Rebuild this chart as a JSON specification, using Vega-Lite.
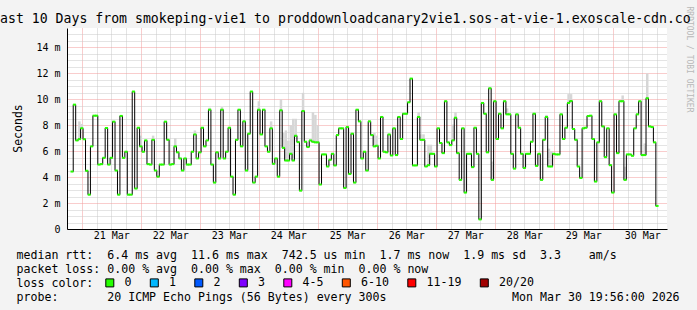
{
  "$schema": "https://vega.github.io/schema/vega-lite/v6.json",
  "width": 600,
  "height": 201,
  "autosize": {"type": "none"},
  "padding": {"left": 67, "top": 28, "right": 30, "bottom": 81},
  "background": "#f3f3f3",
  "config": {
    "view": {"fill": "white", "stroke": null},
    "font": "DejaVu Sans Mono"
  },
  "title": {
    "text": "ast 10 Days from smokeping-vie1 to proddownloadcanary2vie1.sos-at-vie-1.exoscale-cdn.co",
    "anchor": "start",
    "frame": "group",
    "dx": -67,
    "dy": 30,
    "offset": 0,
    "fontSize": 13.2,
    "fontWeight": "normal",
    "font": "DejaVu Sans Mono",
    "color": "black",
    "baseline": "alphabetic"
  },
  "datasets": {
    "median": [
      {"hour":20,"rtt":4.43},{"hour":21,"rtt":9.59},{"hour":22,"rtt":6.83},{"hour":23,"rtt":6.93},{"hour":24,"rtt":7.76},{"hour":25,"rtt":6.93},{"hour":26,"rtt":4.49},{"hour":27,"rtt":2.65},{"hour":28,"rtt":6.37},{"hour":29,"rtt":8.74},
      {"hour":30,"rtt":8.74},{"hour":31,"rtt":4.97},{"hour":32,"rtt":5.0},{"hour":33,"rtt":5.49},{"hour":34,"rtt":7.79},{"hour":35,"rtt":4.97},{"hour":36,"rtt":5.49},{"hour":37,"rtt":8.28},{"hour":38,"rtt":4.51},{"hour":39,"rtt":2.65},
      {"hour":40,"rtt":8.72},{"hour":41,"rtt":5.49},{"hour":42,"rtt":5.96},{"hour":43,"rtt":2.65},{"hour":44,"rtt":2.65},{"hour":45,"rtt":10.6},{"hour":46,"rtt":3.12},{"hour":47,"rtt":7.81},{"hour":48,"rtt":6.37},{"hour":49,"rtt":5.96},
      {"hour":50,"rtt":6.83},{"hour":51,"rtt":5.0},{"hour":52,"rtt":4.97},{"hour":53,"rtt":6.88},{"hour":54,"rtt":4.51},{"hour":55,"rtt":4.04},{"hour":56,"rtt":4.97},{"hour":57,"rtt":4.97},{"hour":58,"rtt":8.28},{"hour":59,"rtt":6.88},
      {"hour":60,"rtt":4.97},{"hour":61,"rtt":5.0},{"hour":62,"rtt":6.37},{"hour":63,"rtt":5.91},{"hour":64,"rtt":5.44},{"hour":65,"rtt":4.51},{"hour":66,"rtt":5.44},{"hour":67,"rtt":4.97},{"hour":68,"rtt":4.97},{"hour":69,"rtt":5.96},
      {"hour":70,"rtt":7.29},{"hour":71,"rtt":5.44},{"hour":72,"rtt":5.91},{"hour":73,"rtt":7.81},{"hour":74,"rtt":6.37},{"hour":75,"rtt":6.83},{"hour":76,"rtt":9.2},{"hour":77,"rtt":4.97},{"hour":78,"rtt":3.58},{"hour":79,"rtt":5.91},
      {"hour":80,"rtt":5.44},{"hour":81,"rtt":9.2},{"hour":82,"rtt":5.44},{"hour":83,"rtt":5.96},{"hour":84,"rtt":7.81},{"hour":85,"rtt":4.04},{"hour":86,"rtt":2.65},{"hour":87,"rtt":6.88},{"hour":88,"rtt":9.2},{"hour":89,"rtt":6.37},
      {"hour":90,"rtt":8.3},{"hour":91,"rtt":4.51},{"hour":92,"rtt":7.35},{"hour":93,"rtt":10.6},{"hour":94,"rtt":3.58},{"hour":95,"rtt":4.04},{"hour":96,"rtt":9.2},{"hour":97,"rtt":7.29},{"hour":98,"rtt":9.2},{"hour":99,"rtt":6.37},
      {"hour":100,"rtt":5.96},{"hour":101,"rtt":7.76},{"hour":102,"rtt":5.03},{"hour":103,"rtt":5.44},{"hour":104,"rtt":4.04},{"hour":105,"rtt":9.15},{"hour":106,"rtt":6.26},{"hour":107,"rtt":5.28},{"hour":108,"rtt":5.28},{"hour":109,"rtt":5.8},
      {"hour":110,"rtt":5.28},{"hour":111,"rtt":7.19},{"hour":112,"rtt":6.7},{"hour":113,"rtt":2.96},{"hour":114,"rtt":9.1},{"hour":115,"rtt":6.73},{"hour":116,"rtt":6.32},{"hour":117,"rtt":6.83},{"hour":118,"rtt":6.73},{"hour":119,"rtt":6.68},
      {"hour":120,"rtt":6.68},{"hour":121,"rtt":3.43},{"hour":122,"rtt":5.75},{"hour":123,"rtt":5.75},{"hour":124,"rtt":4.82},{"hour":125,"rtt":5.34},{"hour":126,"rtt":5.8},{"hour":127,"rtt":4.9},{"hour":128,"rtt":7.24},{"hour":129,"rtt":7.76},
      {"hour":130,"rtt":7.76},{"hour":131,"rtt":3.17},{"hour":132,"rtt":7.86},{"hour":133,"rtt":4.25},{"hour":134,"rtt":7.35},{"hour":135,"rtt":3.58},{"hour":136,"rtt":9.2},{"hour":137,"rtt":8.3},{"hour":138,"rtt":5.44},{"hour":139,"rtt":5.96},
      {"hour":140,"rtt":4.51},{"hour":141,"rtt":8.3},{"hour":142,"rtt":7.24},{"hour":143,"rtt":6.37},{"hour":144,"rtt":6.42},{"hour":145,"rtt":5.44},{"hour":146,"rtt":8.64},{"hour":147,"rtt":5.96},{"hour":148,"rtt":5.91},{"hour":149,"rtt":7.29},
      {"hour":150,"rtt":5.67},{"hour":151,"rtt":7.76},{"hour":152,"rtt":5.7},{"hour":153,"rtt":8.64},{"hour":154,"rtt":6.94},{"hour":155,"rtt":8.89},{"hour":156,"rtt":8.89},{"hour":157,"rtt":9.77},{"hour":158,"rtt":11.6},{"hour":159,"rtt":4.9},
      {"hour":160,"rtt":4.9},{"hour":161,"rtt":8.64},{"hour":162,"rtt":6.88},{"hour":163,"rtt":6.88},{"hour":164,"rtt":4.82},{"hour":165,"rtt":4.92},{"hour":166,"rtt":5.8},{"hour":167,"rtt":5.8},{"hour":168,"rtt":4.82},{"hour":169,"rtt":7.76},
      {"hour":170,"rtt":6.63},{"hour":171,"rtt":5.85},{"hour":172,"rtt":9.85},{"hour":173,"rtt":6.68},{"hour":174,"rtt":6.47},{"hour":175,"rtt":6.83},{"hour":176,"rtt":8.58},{"hour":177,"rtt":5.85},{"hour":178,"rtt":3.79},{"hour":179,"rtt":7.76},
      {"hour":180,"rtt":2.81},{"hour":181,"rtt":5.8},{"hour":182,"rtt":5.8},{"hour":183,"rtt":4.77},{"hour":184,"rtt":7.81},{"hour":185,"rtt":5.8},{"hour":186,"rtt":0.74},{"hour":187,"rtt":9.72},{"hour":188,"rtt":8.89},{"hour":189,"rtt":5.91},
      {"hour":190,"rtt":10.85},{"hour":191,"rtt":3.79},{"hour":192,"rtt":9.85},{"hour":193,"rtt":6.94},{"hour":194,"rtt":8.89},{"hour":195,"rtt":7.76},{"hour":196,"rtt":9.85},{"hour":197,"rtt":8.84},{"hour":198,"rtt":8.84},{"hour":199,"rtt":5.8},
      {"hour":200,"rtt":4.66},{"hour":201,"rtt":8.84},{"hour":202,"rtt":7.81},{"hour":203,"rtt":5.8},{"hour":204,"rtt":4.71},{"hour":205,"rtt":5.8},{"hour":206,"rtt":5.8},{"hour":207,"rtt":6.73},{"hour":208,"rtt":8.89},{"hour":209,"rtt":4.87},
      {"hour":210,"rtt":5.8},{"hour":211,"rtt":3.79},{"hour":212,"rtt":6.88},{"hour":213,"rtt":8.64},{"hour":214,"rtt":4.82},{"hour":215,"rtt":4.82},{"hour":216,"rtt":5.8},{"hour":217,"rtt":5.75},{"hour":218,"rtt":5.75},{"hour":219,"rtt":8.84},
      {"hour":220,"rtt":6.94},{"hour":221,"rtt":7.81},{"hour":222,"rtt":9.72},{"hour":223,"rtt":9.87},{"hour":224,"rtt":7.71},{"hour":225,"rtt":6.88},{"hour":226,"rtt":4.82},{"hour":227,"rtt":3.94},{"hour":228,"rtt":7.76},{"hour":229,"rtt":7.81},
      {"hour":230,"rtt":8.71},{"hour":231,"rtt":8.74},{"hour":232,"rtt":6.94},{"hour":233,"rtt":3.66},{"hour":234,"rtt":6.68},{"hour":235,"rtt":9.85},{"hour":236,"rtt":7.91},{"hour":237,"rtt":5.54},{"hour":238,"rtt":7.76},{"hour":239,"rtt":4.92},
      {"hour":240,"rtt":2.81},{"hour":241,"rtt":8.84},{"hour":242,"rtt":5.85},{"hour":243,"rtt":9.85},{"hour":244,"rtt":9.85},{"hour":245,"rtt":3.79},{"hour":246,"rtt":5.75},{"hour":247,"rtt":5.75},{"hour":248,"rtt":5.65},{"hour":249,"rtt":7.76},
      {"hour":250,"rtt":8.84},{"hour":251,"rtt":9.85},{"hour":252,"rtt":5.7},{"hour":253,"rtt":5.7},{"hour":254,"rtt":10.08},{"hour":255,"rtt":7.91},{"hour":256,"rtt":7.86},{"hour":257,"rtt":6.68},{"hour":258,"rtt":1.78}
    ],
    "smoke": [
      {"hour":23,"lo":6.93,"hi":8.3},{"hour":24,"lo":7.76,"hi":8.1},{"hour":48,"lo":6.37,"hi":7.2},{"hour":53,"lo":6.88,"hi":7.2},{"hour":62,"lo":6.37,"hi":7.0},
      {"hour":70,"lo":7.29,"hi":7.6},{"hour":76,"lo":9.2,"hi":9.35},{"hour":81,"lo":9.2,"hi":9.4},{"hour":96,"lo":9.2,"hi":9.85},{"hour":101,"lo":7.76,"hi":8.3},
      {"hour":105,"lo":9.15,"hi":10.0},{"hour":106,"lo":6.26,"hi":7.4},{"hour":107,"lo":5.28,"hi":7.6},{"hour":108,"lo":5.28,"hi":6.8},{"hour":109,"lo":5.8,"hi":8.0},
      {"hour":110,"lo":5.28,"hi":8.5},{"hour":111,"lo":7.19,"hi":8.5},{"hour":114,"lo":9.1,"hi":10.5},{"hour":118,"lo":6.73,"hi":9.0},{"hour":119,"lo":6.68,"hi":8.8},
      {"hour":120,"lo":6.68,"hi":8.0},{"hour":143,"lo":6.37,"hi":7.4},{"hour":144,"lo":6.42,"hi":7.2},{"hour":161,"lo":8.64,"hi":9.0},{"hour":162,"lo":6.88,"hi":7.3},
      {"hour":163,"lo":6.88,"hi":7.3},{"hour":165,"lo":4.92,"hi":6.5},{"hour":166,"lo":5.8,"hi":6.5},{"hour":175,"lo":6.83,"hi":8.05},{"hour":176,"lo":8.58,"hi":9.0},
      {"hour":191,"lo":3.79,"hi":5.2},{"hour":197,"lo":8.84,"hi":9.3},{"hour":213,"lo":8.64,"hi":8.8},{"hour":214,"lo":4.82,"hi":6.2},{"hour":215,"lo":4.82,"hi":6.0},
      {"hour":222,"lo":9.72,"hi":10.4},{"hour":223,"lo":9.87,"hi":10.4},{"hour":244,"lo":9.85,"hi":10.3},{"hour":245,"lo":3.79,"hi":4.8},{"hour":253,"lo":5.7,"hi":6.6},
      {"hour":254,"lo":10.08,"hi":12.0}
    ]
  },
  "resolve": {"axis": {"x": "independent", "y": "independent"}},
  "layer": [
    {
      "data": {"name": "smoke"},
      "mark": {"type": "bar", "color": "#d6d6d6", "size": 2.5, "clip": true},
      "encoding": {
        "x": {
          "field": "hour",
          "type": "quantitative",
          "scale": {"domain": [20, 260], "nice": false, "zero": false},
          "axis": {
            "orient": "bottom",
            "values": [24,30,36,42,48,54,60,66,72,78,84,90,96,102,108,114,120,126,132,138,144,150,156,162,168,174,180,186,192,198,204,210,216,222,228,234,240,246,252,258],
            "grid": true,
            "gridColor": {"condition": {"test": "datum.value % 24 === 0", "value": "#f29b9b"}, "value": "#c8c8c8"},
            "gridDash": [1, 1],
            "gridWidth": 1,
            "ticks": false,
            "tickSize": 0,
            "labelExpr": "datum.value % 24 === 12 ? (20 + floor(datum.value / 24)) + ' Mar' : ''",
            "labelFont": "DejaVu Sans Mono",
            "labelFontSize": 10,
            "labelColor": "black",
            "labelPadding": 1,
            "labelOverlap": false,
            "labelFlush": false,
            "domainColor": "black",
            "domainWidth": 1,
            "title": [
              "median rtt:\u00a0\u00a06.4 ms avg\u00a0\u00a011.6 ms max\u00a0\u00a0742.5 us min\u00a0\u00a01.7 ms now\u00a0\u00a01.9 ms sd\u00a0\u00a03.3\u00a0\u00a0\u00a0\u00a0am/s",
              "packet loss: 0.00 % avg\u00a0\u00a00.00 % max\u00a0\u00a00.00 % min\u00a0\u00a00.00 % now"
            ],
            "titleX": -51,
            "titleY": 29,
            "titleAlign": "left",
            "titleAnchor": "start",
            "titleBaseline": "alphabetic",
            "titleLineHeight": 14,
            "titleFont": "DejaVu Sans Mono",
            "titleFontSize": 11.6,
            "titleFontWeight": "normal",
            "titleColor": "black"
          }
        },
        "y": {
          "field": "lo",
          "type": "quantitative",
          "scale": {"domain": [0, 15.5], "nice": false, "zero": true},
          "axis": {
            "orient": "left",
            "values": [0,0.5,1,1.5,2,2.5,3,3.5,4,4.5,5,5.5,6,6.5,7,7.5,8,8.5,9,9.5,10,10.5,11,11.5,12,12.5,13,13.5,14,14.5,15],
            "grid": true,
            "gridColor": {"condition": {"test": "datum.value % 2 === 0", "value": "#f29b9b"}, "value": "#c8c8c8"},
            "gridDash": [1, 1],
            "gridWidth": 1,
            "ticks": false,
            "tickSize": 0,
            "labelExpr": "datum.value % 2 === 0 ? (datum.value === 0 ? '0' : datum.value + ' m') : ''",
            "labelFont": "DejaVu Sans Mono",
            "labelFontSize": 10,
            "labelColor": "black",
            "labelPadding": 7,
            "labelOverlap": false,
            "labelFlush": false,
            "domainColor": "black",
            "domainWidth": 1,
            "title": "Seconds",
            "titleX": -49,
            "titleY": 100,
            "titleAngle": -90,
            "titleAlign": "center",
            "titleBaseline": "middle",
            "titleFont": "DejaVu Sans Mono",
            "titleFontSize": 11.5,
            "titleFontWeight": "normal",
            "titleColor": "black"
          }
        },
        "y2": {"field": "hi"}
      }
    },
    {
      "data": {"name": "median"},
      "mark": {"type": "line", "interpolate": "step", "color": "black", "strokeWidth": 1, "clip": true},
      "encoding": {
        "x": {"field": "hour", "type": "quantitative", "axis": null},
        "y": {
          "field": "rtt",
          "type": "quantitative",
          "axis": {
            "orient": "right",
            "domain": false,
            "ticks": false,
            "labels": false,
            "grid": false,
            "title": "RRDTOOL / TOBI OETIKER",
            "titleAngle": 90,
            "titleAlign": "left",
            "titleBaseline": "middle",
            "titleX": 21,
            "titleY": -22,
            "titleFont": "DejaVu Sans Mono",
            "titleFontSize": 8,
            "titleFontWeight": "normal",
            "titleColor": "#b8b8b8"
          }
        }
      }
    },
    {
      "data": {"name": "median"},
      "mark": {"type": "tick", "orient": "horizontal", "size": 3, "thickness": 2, "opacity": 1, "clip": true},
      "encoding": {
        "x": {
          "field": "hour",
          "type": "quantitative",
          "axis": {
            "orient": "top",
            "domain": false,
            "ticks": false,
            "labels": false,
            "grid": false,
            "title": "probe:\u00a0\u00a0\u00a0\u00a0\u00a0\u00a0\u00a020 ICMP Echo Pings (56 Bytes) every 300s\u00a0\u00a0\u00a0\u00a0\u00a0\u00a0\u00a0\u00a0\u00a0\u00a0\u00a0\u00a0\u00a0\u00a0\u00a0\u00a0\u00a0\u00a0Mon Mar 30 19:56:00 2026",
            "titleX": -51,
            "titleY": 272,
            "titleAlign": "left",
            "titleAnchor": "start",
            "titleBaseline": "alphabetic",
            "titleFont": "DejaVu Sans Mono",
            "titleFontSize": 11.6,
            "titleFontWeight": "normal",
            "titleColor": "black"
          }
        },
        "y": {
          "field": "rtt",
          "type": "quantitative",
          "axis": {
            "orient": "left",
            "domain": false,
            "ticks": false,
            "labels": false,
            "grid": false,
            "title": "loss color:",
            "titleAngle": 0,
            "titleX": -51,
            "titleY": 258,
            "titleAlign": "left",
            "titleBaseline": "alphabetic",
            "titleFont": "DejaVu Sans Mono",
            "titleFontSize": 11.6,
            "titleFontWeight": "normal",
            "titleColor": "black"
          }
        },
        "color": {
          "datum": "0",
          "type": "nominal",
          "scale": {
            "domain": ["0", "1", "2", "3", "4-5", "6-10", "11-19", "20/20"],
            "range": ["#26ff00", "#00b8ff", "#0059ff", "#7e00ff", "#ff00ff", "#ff5500", "#ff0000", "#a10000"]
          },
          "legend": {
            "orient": "none",
            "legendX": 37,
            "legendY": 249,
            "direction": "horizontal",
            "title": null,
            "padding": 0,
            "symbolType": "square",
            "symbolSize": 64,
            "symbolStrokeColor": "black",
            "symbolStrokeWidth": 1,
            "symbolOpacity": 1,
            "labelFont": "DejaVu Sans Mono",
            "labelFontSize": 11.6,
            "labelColor": "black",
            "labelOffset": 9,
            "columnPadding": 15.5,
            "rowPadding": 0,
            "labelLimit": 200,
            "encode": {"symbols": {"update": {"stroke": {"value": "black"}, "strokeWidth": {"value": 1}, "opacity": {"value": 1}}}}
          }
        }
      }
    }
  ]
}
